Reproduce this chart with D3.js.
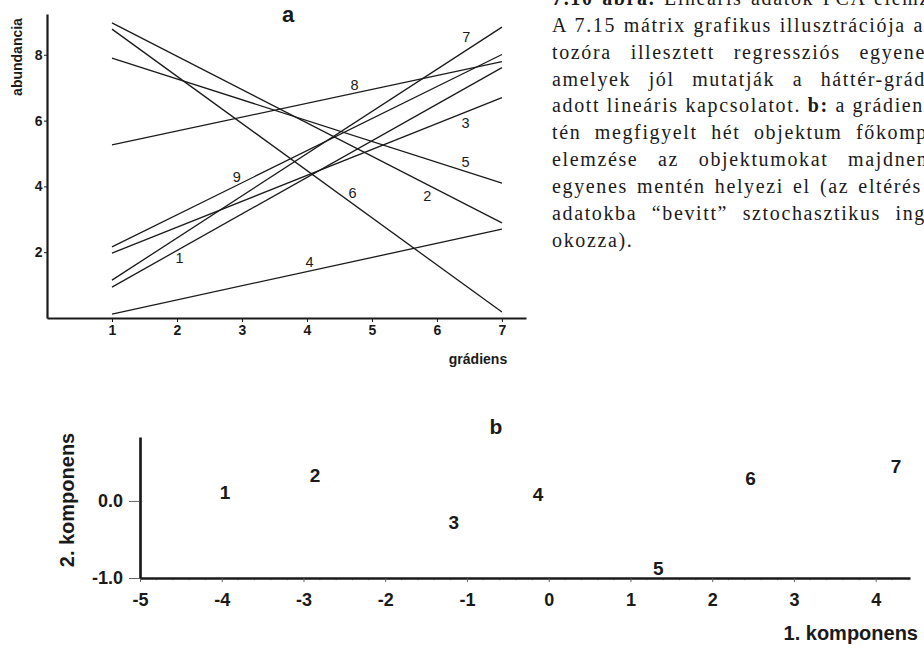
<!DOCTYPE html>
<html><head><meta charset="utf-8">
<script src="https://cdn.jsdelivr.net/npm/d3@7"></script>
<style>html,body{margin:0;padding:0;background:#fff;overflow:hidden}</style>
</head><body><svg id="c" width="924" height="650" xmlns="http://www.w3.org/2000/svg"></svg>
<script>
// ---- Chart a: regression lines along the gradient ----
const lineIds = ["1","2","3","4","5","6","7","8","9"];
const gradientEnds = [1, 7];
const abundanceAtStart = [0.94, 8.97, 1.97, 0.12, 7.90, 8.78, 1.15, 5.26, 2.16];
const abundanceAtEnd   = [7.61, 2.89, 6.70, 2.70, 4.10, 0.18, 8.84, 7.79, 8.01];
const labelGradient    = [2.04, 5.85, 6.44, 4.04, 6.44, 4.70, 6.45, 4.73, 2.92];
const labelAbundance   = [1.82, 3.71, 5.93, 1.70, 4.74, 3.80, 8.54, 7.08, 4.29];
const gradientTicks = [1, 2, 3, 4, 5, 6, 7];
const abundanceTicks = [2, 4, 6, 8];

// ---- Chart b: PCA scores of the 7 objects ----
const objectIds = ["1","2","3","4","5","6","7"];
const pc1 = [-3.96, -2.86, -1.16, -0.13, 1.34, 2.47, 4.25];
const pc2 = [0.11, 0.33, -0.28, 0.09, -0.87, 0.30, 0.45];
const pc1Ticks = [-5, -4, -3, -2, -1, 0, 1, 2, 3, 4];
const pc2Ticks = [-1.0, 0.0];

// ---- caption text ----
const captionLines = [
  [{t:"7.10 ábra.", b:true}, {t:" Lineáris adatok PCA elemz"}],
  [{t:"A 7.15 mátrix grafikus illusztrációja a"}],
  [{t:"tozóra illesztett regressziós egyene"}],
  [{t:"amelyek jól mutatják a háttér-grád"}],
  [{t:"adott lineáris kapcsolatot. "}, {t:"b:", b:true}, {t:" a grádien"}],
  [{t:"tén megfigyelt hét objektum főkomp"}],
  [{t:"elemzése az objektumokat majdnem"}],
  [{t:"egyenes mentén helyezi el (az eltérés"}],
  [{t:"adatokba “bevitt” sztochasztikus ing"}],
  [{t:"okozza)."}]
];
const captionEnds = [930, 924, 926, 926, 924, 928, 934, 922, 926, null];

const svg = d3.select("#c");
svg.append("rect").attr("width", 924).attr("height", 650).attr("fill", "#fff");
const ink = "#1a1a1a";
const sans = "'Liberation Sans', Arial, sans-serif";

// ===== Chart a =====
const xA = d3.scaleLinear().domain([0, 7.37]).range([47, 526]);
const yA = d3.scaleLinear().domain([0, 9.24]).range([318, 14]);
const gA = svg.append("g");

const axA_x = gA.append("g").attr("transform", `translate(0,${yA(0)})`)
  .call(d3.axisBottom(xA).tickValues(gradientTicks).tickFormat(d3.format("d"))
    .tickSizeOuter(0).tickSizeInner(4).tickPadding(3));
const axA_y = gA.append("g").attr("transform", `translate(${xA(0)},0)`)
  .call(d3.axisLeft(yA).tickValues(abundanceTicks).tickFormat(d3.format("d"))
    .tickSizeOuter(0).tickSizeInner(3).tickPadding(1.5));
[axA_x, axA_y].forEach(ax => {
  ax.select(".domain").attr("stroke", ink).attr("stroke-width", 2.2);
  ax.selectAll(".tick line").attr("stroke", ink).attr("stroke-width", 1);
  ax.selectAll(".tick text").attr("fill", ink).attr("font-family", sans)
    .attr("font-weight", "bold").attr("font-size", 14);
});

const lineGen = d3.line().x(d => xA(d[0])).y(d => yA(d[1]));
gA.append("g").selectAll("path").data(lineIds).join("path")
  .attr("d", (d, i) => lineGen([[gradientEnds[0], abundanceAtStart[i]], [gradientEnds[1], abundanceAtEnd[i]]]))
  .attr("fill", "none").attr("stroke", ink).attr("stroke-width", 1.3);

gA.append("g").selectAll("text").data(lineIds).join("text")
  .attr("x", (d, i) => xA(labelGradient[i]))
  .attr("y", (d, i) => yA(labelAbundance[i]))
  .attr("dy", "0.36em").attr("text-anchor", "middle")
  .attr("font-family", sans).attr("font-size", 14.5).attr("fill", ink)
  .text(d => d);

gA.append("text").attr("x", 288).attr("y", 22).attr("text-anchor", "middle")
  .attr("font-family", sans).attr("font-weight", "bold").attr("font-size", 22).attr("fill", ink).text("a");
gA.append("text").attr("transform", "translate(22,57) rotate(-90)").attr("text-anchor", "middle")
  .attr("font-family", sans).attr("font-weight", "bold").attr("font-size", 14).attr("fill", ink).text("abundancia");
gA.append("text").attr("x", 478).attr("y", 364).attr("text-anchor", "middle")
  .attr("font-family", sans).attr("font-weight", "bold").attr("font-size", 14).attr("fill", ink).text("grádiens");

// ===== Chart b =====
const xB = d3.scaleLinear().domain([-5, 4.42]).range([140, 910]);
const yB = d3.scaleLinear().domain([-1, 0.83]).range([578, 437]);
const gB = svg.append("g");

// minor ticks
const minor = d3.range(-5, 4.41, 0.2).filter(v => Math.abs(v - Math.round(v)) > 0.01);
gB.append("g").selectAll("line").data(minor).join("line")
  .attr("x1", d => xB(d)).attr("x2", d => xB(d))
  .attr("y1", yB(-1)).attr("y2", yB(-1) + 2.5)
  .attr("stroke", "#aaa").attr("stroke-width", 0.7);

const axB_x = gB.append("g").attr("transform", `translate(0,${yB(-1)})`)
  .call(d3.axisBottom(xB).tickValues(pc1Ticks).tickFormat(d3.format("d"))
    .tickSizeOuter(0).tickSizeInner(4).tickPadding(11.6));
const axB_y = gB.append("g").attr("transform", `translate(${xB(-5)},0)`)
  .call(d3.axisLeft(yB).tickValues(pc2Ticks).tickFormat(d3.format(".1f"))
    .tickSizeOuter(0).tickSizeInner(11).tickPadding(6));
[axB_x, axB_y].forEach(ax => {
  ax.select(".domain").attr("stroke", ink).attr("stroke-width", 2.7);
  ax.selectAll(".tick line").attr("stroke", "#555").attr("stroke-width", 0.9);
  ax.selectAll(".tick text").attr("fill", ink).attr("font-family", sans)
    .attr("font-weight", "bold").attr("font-size", 18);
});
axB_y.selectAll(".tick text").text(d => d3.format(".1f")(d).replace("−", "-"));
axB_x.selectAll(".tick text").text(d => String(d));

gB.append("g").selectAll("text").data(objectIds).join("text")
  .attr("x", (d, i) => xB(pc1[i]))
  .attr("y", (d, i) => yB(pc2[i]))
  .attr("dy", "0.36em").attr("text-anchor", "middle")
  .attr("font-family", sans).attr("font-weight", "bold").attr("font-size", 19).attr("fill", ink)
  .text(d => d);

gB.append("text").attr("x", 496).attr("y", 434).attr("text-anchor", "middle")
  .attr("font-family", sans).attr("font-weight", "bold").attr("font-size", 21).attr("fill", ink).text("b");
gB.append("text").attr("transform", "translate(74,500) rotate(-90)").attr("text-anchor", "middle")
  .attr("font-family", sans).attr("font-weight", "bold").attr("font-size", 20).attr("fill", ink).text("2. komponens");
gB.append("text").attr("x", 918).attr("y", 640).attr("text-anchor", "end")
  .attr("font-family", sans).attr("font-weight", "bold").attr("font-size", 20).attr("fill", ink).text("1. komponens");

// ===== Caption =====
const gC = svg.append("g");
const capX = 552;
const texts = captionLines.map((segs, i) => {
  const t = gC.append("text").attr("x", capX).attr("y", 4.8 + 26.9 * i)
    .attr("font-family", "'Liberation Serif', 'Times New Roman', serif")
    .attr("font-size", 20).attr("fill", ink).attr("xml:space", "preserve")
    .style("white-space", "pre");
  segs.forEach(s => t.append("tspan").attr("font-weight", s.b ? "bold" : "normal").text(s.t));
  return t;
});
// letter spacing chosen so the un-justified line (index 4) spans its natural width
const refIdx = 4;
const refFull = captionLines[refIdx].map(s => s.t).join("");
const refNat = texts[refIdx].node().getComputedTextLength();
const ls = Math.max(0, (captionEnds[refIdx] - capX - refNat) / refFull.length);
texts.forEach((t, i) => {
  const segs = captionLines[i];
  const full = segs.map(s => s.t).join("");
  const natural = t.node().getComputedTextLength() + ls * full.length;
  t.attr("letter-spacing", ls);
  const end = captionEnds[i];
  if (end && i !== refIdx) {
    const spaces = (full.match(/ /g) || []).length;
    if (spaces > 0) t.attr("word-spacing", (end - capX - natural) / spaces);
  }
});
</script>
</body></html>
